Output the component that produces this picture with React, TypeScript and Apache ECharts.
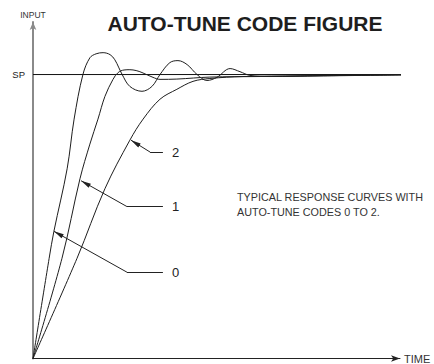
import React, { useEffect, useRef } from "react";
import * as echarts from "echarts";

// Data in chart units: time 0..100 along the axis, input with SP = 100
const SP = 100;
const timeMax = 100;
const inputMax = 118.5;
const spEnd = 107.4;

const curve0: [number, number][] = [
  [0, 0], [4.4, 35.3], [5.7, 44.8], [9.3, 66.8], [11.2, 84.3],
  [13.6, 100], [15.5, 105.9], [17.2, 107.3], [19.1, 107.7], [21.0, 107.0],
  [22.3, 105.2], [24.3, 100], [26.4, 95.8], [29.7, 94.1], [32.4, 95.8],
  [34.6, 100], [37.3, 104.2], [39.5, 104.9], [42.0, 103.5], [44.7, 100],
  [47.4, 97.9], [50.1, 99.0], [53.7, 102.1], [56.4, 101.0], [59.1, 99.7],
  [64.6, 99.3], [78.2, 99.5], [107.4, 100],
];

const curve1: [number, number][] = [
  [0, 0], [7.9, 35.3], [12.8, 63.3], [15.5, 75.5], [17.7, 84.3],
  [19.6, 92.3], [21.8, 98.3], [23.2, 100.7], [24.8, 101.6], [26.4, 101.7],
  [28.1, 101.4], [29.7, 100.7], [32.7, 99.0], [34.6, 98.3], [39.2, 98.4],
  [48.2, 99.1], [61.9, 99.3], [80.9, 99.7], [107.4, 100],
];

const curve2: [number, number][] = [
  [0, 0], [12.0, 35.3], [19.6, 59.8], [26.4, 76.9], [30.0, 84.3],
  [34.6, 91.3], [39.2, 94.8], [43.6, 97.6], [48.2, 98.6], [57.2, 99.3],
  [72.8, 99.5], [107.4, 100],
];

const spLine: [number, number][] = [[0, SP], [spEnd, SP]];

// Leader annotations: [tip, elbow], [elbow, end]
const leaderNames = ["2", "1", "0"];
const leaderTips: [number, number][] = [[26.7, 76.9], [13.1, 62.6], [5.7, 44.8]];
const leaderElbows: [number, number][] = [[31.9, 72.7], [25.6, 53.5], [25.6, 30.4]];
const leaderEnds: [number, number][] = [[35.4, 72.7], [35.4, 53.5], [35.4, 30.4]];

const titleText = "AUTO-TUNE CODE FIGURE";
const noteLines = ["TYPICAL RESPONSE CURVES WITH", "AUTO-TUNE CODES 0 TO 2."];

// filled, slender arrowhead whose tip sits at the centre of a square box
const arrowHead = "path://M0,0 M20,20 M10,10 L12.3,20 L7.7,20 Z";

export default function App() {
  const ref = useRef<HTMLDivElement>(null);
  useEffect(() => {
    if (!ref.current) return;
    const chart = echarts.init(ref.current, null, { renderer: "svg" });
    const font = "'Liberation Sans', Arial, sans-serif";
    const curveStyle = { color: "#1e1e1e", width: 1 };
    const curveSeries = [curve0, curve1, curve2].map((c, i) => ({
      type: "line",
      name: "code " + i,
      data: c,
      smooth: 0.35,
      showSymbol: false,
      symbol: "none",
      clip: false,
      lineStyle: curveStyle,
      z: 3,
    }));
    chart.setOption({
      animation: false,
      textStyle: { fontFamily: font },
      grid: { left: 33, right: 34, top: 22, bottom: 3 },
      xAxis: {
        type: "value",
        min: 0,
        max: timeMax,
        name: "TIME",
        nameLocation: "end",
        nameGap: 4,
        nameTextStyle: { fontSize: 11, color: "#333", fontFamily: font, padding: [0, 0, 8, 0] },
        axisLine: { show: true, symbol: ["none", "arrow"], symbolSize: [5, 9], lineStyle: { color: "#222", width: 1 } },
        axisTick: { show: false },
        axisLabel: { show: false },
        splitLine: { show: false },
      },
      yAxis: {
        type: "value",
        min: 0,
        max: inputMax,
        interval: SP,
        name: "INPUT",
        nameLocation: "end",
        nameGap: 3,
        nameTextStyle: { fontSize: 8.5, color: "#333", fontFamily: font },
        axisLine: { show: true, symbol: ["none", "arrow"], symbolSize: [5, 8], lineStyle: { color: "#8a8a8a", width: 2 } },
        axisTick: { show: false },
        axisLabel: {
          show: true,
          showMaxLabel: false,
          margin: 8,
          fontSize: 9.5,
          color: "#222",
          fontFamily: font,
          formatter: (v: number) => (v === SP ? "SP" : ""),
        },
        splitLine: { show: false },
      },
      series: [
        {
          type: "line",
          name: "SP",
          data: spLine,
          showSymbol: false,
          symbol: "none",
          clip: false,
          lineStyle: { color: "#111", width: 1 },
          z: 2,
        },
        ...curveSeries,
        {
          type: "lines",
          coordinateSystem: "cartesian2d",
          symbol: [arrowHead, "none"],
          symbolSize: [20, 0],
          lineStyle: { color: "#222", width: 1, opacity: 1, curveness: 0 },
          itemStyle: { color: "#111" },
          data: leaderTips.map((t, i) => ({ coords: [t, leaderElbows[i]] })),
          z: 4,
        },
        {
          type: "lines",
          coordinateSystem: "cartesian2d",
          symbol: ["none", "none"],
          lineStyle: { color: "#222", width: 1, opacity: 1, curveness: 0 },
          label: {
            show: true,
            position: "end",
            distance: 9,
            fontSize: 13,
            color: "#222",
            fontFamily: font,
            formatter: (p: any) => p.name,
          },
          data: leaderElbows.map((e, i) => ({ name: leaderNames[i], coords: [e, leaderEnds[i]] })),
          z: 4,
        },
      ],
      graphic: [
        {
          type: "text",
          x: 245,
          y: 23,
          style: {
            text: titleText,
            font: "bold 21px " + font,
            fill: "#1e1e1e",
            align: "center",
            verticalAlign: "middle",
          },
        },
        {
          type: "text",
          x: 237,
          y: 204.5,
          style: {
            text: noteLines.join("\n"),
            font: "10.8px " + font,
            lineHeight: 15,
            fill: "#333",
            align: "left",
            verticalAlign: "middle",
          },
        },
      ],
    });
    return () => chart.dispose();
  }, []);
  return (
    <div
      ref={ref}
      style={{ position: "fixed", left: 0, top: 0, width: 434, height: 364, background: "#fff" }}
    />
  );
}
